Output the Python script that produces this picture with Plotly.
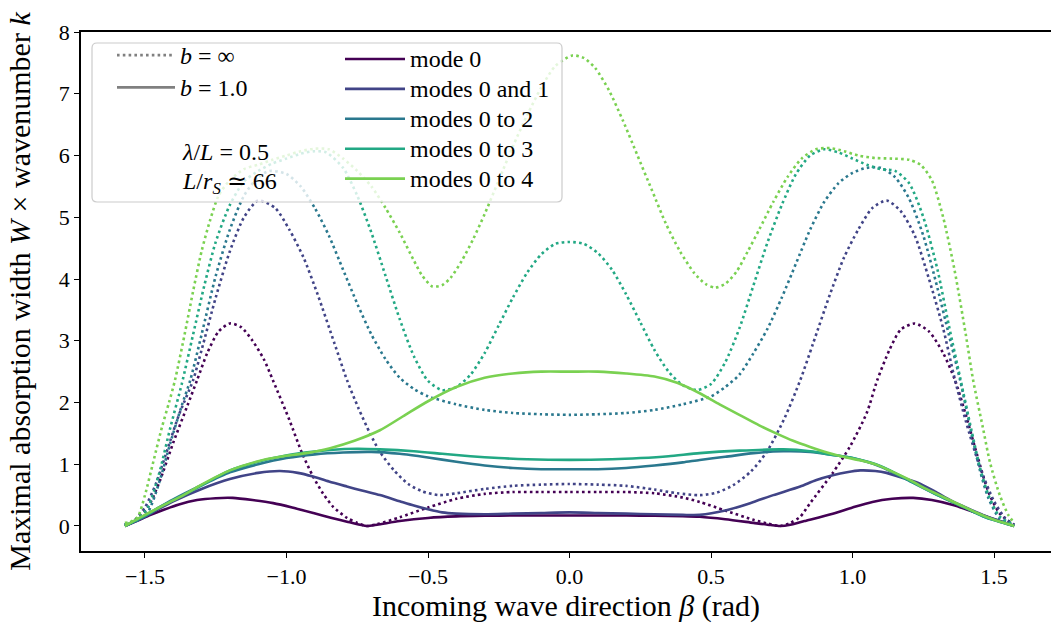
import plotly.graph_objects as go

# ---------------- data ----------------
COLORS = ["#440154", "#414487", "#2a788e", "#22a884", "#7ad151"]
MODE_NAMES = ["mode 0", "modes 0 and 1", "modes 0 to 2", "modes 0 to 3", "modes 0 to 4"]

X_TICKS = [-1.5, -1.0, -0.5, 0.0, 0.5, 1.0, 1.5]
X_TICK_TEXT = ["\u22121.5", "\u22121.0", "\u22120.5", "0.0", "0.5", "1.0", "1.5"]
Y_TICKS = [0, 1, 2, 3, 4, 5, 6, 7, 8]
Y_TICK_TEXT = ["0", "1", "2", "3", "4", "5", "6", "7", "8"]

# b = infinity (dotted)
beta_inf_m0 = [-1.571, -1.53, -1.49, -1.45, -1.40, -1.35, -1.316, -1.28, -1.24, -1.20,
               -1.16, -1.12, -1.08, -1.048, -0.99, -0.945, -0.906, -0.87, -0.835, -0.786,
               -0.75, -0.716, -0.68, -0.60, -0.50, -0.40, -0.30, -0.20, -0.10, 0.00,
               0.10, 0.20, 0.30, 0.40, 0.46, 0.55, 0.65, 0.70, 0.744, 0.78,
               0.815, 0.85, 0.93, 0.99, 1.05, 1.087, 1.13, 1.17, 1.22, 1.27,
               1.32, 1.362, 1.40, 1.44, 1.48, 1.52, 1.571]
w_inf_m0 = [0.02, 0.10, 0.30, 0.70, 1.35, 1.95, 2.36, 2.80, 3.15, 3.28,
            3.22, 3.00, 2.70, 2.36, 1.72, 1.18, 0.80, 0.52, 0.31, 0.13,
            0.05, 0.00, 0.03, 0.14, 0.30, 0.44, 0.52, 0.55, 0.55, 0.55,
            0.55, 0.55, 0.53, 0.46, 0.39, 0.25, 0.10, 0.04, 0.00, 0.05,
            0.15, 0.37, 0.86, 1.28, 1.83, 2.36, 2.85, 3.18, 3.28, 3.15,
            2.80, 2.36, 1.80, 1.15, 0.55, 0.20, 0.02]

beta_inf_m01 = [-1.571, -1.54, -1.50, -1.46, -1.42, -1.38, -1.33, -1.30, -1.25, -1.20,
                -1.15, -1.10, -1.04, -0.99, -0.94, -0.89, -0.83, -0.786, -0.745, -0.705,
                -0.67, -0.62, -0.57, -0.52, -0.46, -0.40, -0.30, -0.20, -0.10, 0.00,
                0.10, 0.20, 0.30, 0.38, 0.46, 0.52, 0.578, 0.64, 0.697, 0.76,
                0.815, 0.86, 0.92, 0.97, 1.02, 1.07, 1.12, 1.17, 1.22, 1.27,
                1.32, 1.36, 1.40, 1.45, 1.50, 1.54, 1.571]
w_inf_m01 = [0.02, 0.08, 0.30, 0.70, 1.25, 1.80, 2.36, 2.85, 3.70, 4.45,
             5.00, 5.27, 5.15, 4.80, 4.35, 3.75, 2.95, 2.36, 1.90, 1.50,
             1.20, 0.90, 0.68, 0.56, 0.50, 0.53, 0.60, 0.65, 0.67, 0.68,
             0.67, 0.65, 0.59, 0.53, 0.50, 0.54, 0.66, 0.88, 1.20, 1.75,
             2.36, 2.95, 3.75, 4.35, 4.80, 5.15, 5.27, 5.10, 4.70, 4.00,
             3.20, 2.40, 1.70, 0.95, 0.40, 0.12, 0.02]

beta_inf_m02 = [-1.571, -1.53, -1.49, -1.45, -1.41, -1.37, -1.34, -1.30, -1.25, -1.20,
                -1.15, -1.10, -1.06, -1.00, -0.95, -0.90, -0.85, -0.80, -0.75, -0.70,
                -0.65, -0.60, -0.55, -0.50, -0.40, -0.30, -0.20, -0.10, 0.00, 0.10,
                0.20, 0.30, 0.40, 0.50, 0.55, 0.60, 0.65, 0.70, 0.75, 0.80,
                0.85, 0.90, 0.95, 1.00, 1.05, 1.10, 1.15, 1.20, 1.25, 1.30,
                1.34, 1.38, 1.42, 1.45, 1.48, 1.52, 1.571]
w_inf_m02 = [0.02, 0.08, 0.22, 0.70, 1.35, 1.95, 2.36, 3.10, 4.05, 4.80,
             5.35, 5.65, 5.75, 5.70, 5.50, 5.15, 4.70, 4.15, 3.60, 3.10,
             2.70, 2.40, 2.22, 2.10, 1.97, 1.88, 1.83, 1.81, 1.80, 1.81,
             1.83, 1.88, 1.97, 2.10, 2.25, 2.45, 2.80, 3.20, 3.70, 4.25,
             4.80, 5.25, 5.55, 5.72, 5.80, 5.80, 5.65, 5.30, 4.70, 3.85,
             3.10, 2.36, 1.50, 0.90, 0.45, 0.12, 0.02]

beta_inf_m03 = [-1.571, -1.53, -1.49, -1.45, -1.41, -1.37, -1.33, -1.29, -1.25, -1.20,
                -1.15, -1.10, -1.05, -1.00, -0.95, -0.90, -0.86, -0.80, -0.75, -0.70,
                -0.65, -0.60, -0.55, -0.50, -0.45, -0.40, -0.35, -0.30, -0.25, -0.20,
                -0.15, -0.10, -0.05, 0.00, 0.05, 0.10, 0.15, 0.20, 0.25, 0.30,
                0.35, 0.40, 0.45, 0.50, 0.55, 0.60, 0.65, 0.70, 0.75, 0.80,
                0.85, 0.90, 0.95, 1.00, 1.05, 1.10, 1.15, 1.20, 1.25, 1.30,
                1.34, 1.38, 1.42, 1.45, 1.48, 1.52, 1.571]
w_inf_m03 = [0.02, 0.10, 0.30, 0.85, 1.60, 2.30, 3.10, 3.90, 4.60, 5.20,
             5.58, 5.75, 5.87, 5.95, 6.03, 6.07, 6.05, 5.80, 5.35, 4.75,
             4.05, 3.35, 2.75, 2.35, 2.20, 2.25, 2.45, 2.80, 3.25, 3.70,
             4.10, 4.40, 4.57, 4.60, 4.57, 4.42, 4.15, 3.75, 3.30, 2.85,
             2.50, 2.28, 2.20, 2.30, 2.65, 3.20, 3.90, 4.60, 5.20, 5.70,
             6.00, 6.10, 6.05, 5.95, 5.85, 5.78, 5.75, 5.55, 5.00, 4.15,
             3.25, 2.40, 1.55, 0.95, 0.50, 0.15, 0.02]

beta_inf_m04 = [-1.571, -1.55, -1.525, -1.50, -1.47, -1.44, -1.415, -1.394, -1.36, -1.33,
                -1.30, -1.27, -1.24, -1.20, -1.15, -1.10, -1.05, -1.00, -0.95, -0.90,
                -0.85, -0.80, -0.75, -0.70, -0.65, -0.60, -0.55, -0.52, -0.485, -0.45,
                -0.42, -0.38, -0.34, -0.30, -0.25, -0.20, -0.15, -0.10, -0.05, 0.01,
                0.05, 0.09, 0.14, 0.19, 0.24, 0.29, 0.34, 0.39, 0.44, 0.48,
                0.514, 0.55, 0.59, 0.63, 0.67, 0.72, 0.77, 0.82, 0.87, 0.92,
                0.97, 1.02, 1.08, 1.14, 1.20, 1.24, 1.28, 1.32, 1.36, 1.40,
                1.426, 1.46, 1.486, 1.52, 1.55, 1.571]
w_inf_m04 = [0.05, 0.07, 0.15, 0.50, 1.05, 1.60, 2.00, 2.36, 3.10, 3.80,
             4.45, 4.95, 5.35, 5.60, 5.78, 5.85, 5.93, 6.00, 6.07, 6.11,
             6.10, 5.95, 5.75, 5.50, 5.15, 4.75, 4.30, 4.05, 3.88, 3.90,
             4.02, 4.30, 4.65, 5.05, 5.60, 6.15, 6.65, 7.10, 7.45, 7.62,
             7.58, 7.42, 7.05, 6.55, 6.00, 5.45, 4.90, 4.45, 4.10, 3.92,
             3.86, 3.92, 4.12, 4.45, 4.80, 5.25, 5.65, 5.95, 6.10, 6.12,
             6.07, 6.00, 5.96, 5.95, 5.93, 5.85, 5.60, 5.00, 4.15, 3.10,
             2.36, 1.60, 1.02, 0.50, 0.18, 0.05]

# b = 1.0 (solid)
beta_b1_m0 = [-1.571, -1.53, -1.48, -1.436, -1.38, -1.316, -1.25, -1.19, -1.12, -1.047,
              -0.98, -0.905, -0.84, -0.786, -0.74, -0.716, -0.68, -0.60, -0.50, -0.40,
              -0.30, -0.20, -0.10, 0.00, 0.10, 0.20, 0.30, 0.40, 0.46, 0.55,
              0.65, 0.71, 0.744, 0.78, 0.83, 0.93, 1.00, 1.07, 1.14, 1.214,
              1.28, 1.355, 1.42, 1.475, 1.52, 1.571]
w_b1_m0 = [0.00, 0.08, 0.18, 0.26, 0.35, 0.42, 0.45, 0.455, 0.42, 0.37,
           0.30, 0.21, 0.13, 0.07, 0.02, 0.00, 0.02, 0.08, 0.13, 0.155,
           0.165, 0.17, 0.17, 0.17, 0.17, 0.17, 0.165, 0.16, 0.15, 0.11,
           0.05, 0.015, 0.00, 0.02, 0.08, 0.20, 0.30, 0.39, 0.44, 0.455,
           0.42, 0.34, 0.24, 0.15, 0.08, 0.00]

beta_b1_m01 = [-1.571, -1.50, -1.45, -1.40, -1.30, -1.20, -1.10, -1.023, -0.96, -0.906,
               -0.85, -0.787, -0.73, -0.67, -0.60, -0.55, -0.50, -0.45, -0.40, -0.30,
               -0.20, -0.10, 0.00, 0.10, 0.20, 0.30, 0.40, 0.46, 0.55, 0.638,
               0.72, 0.815, 0.87, 0.93, 0.98, 1.027, 1.08, 1.12, 1.17, 1.23,
               1.29, 1.345, 1.40, 1.46, 1.52, 1.571]
w_b1_m01 = [0.00, 0.15, 0.28, 0.40, 0.60, 0.76, 0.86, 0.89, 0.86, 0.80,
            0.72, 0.64, 0.57, 0.50, 0.40, 0.33, 0.27, 0.22, 0.20, 0.19,
            0.20, 0.21, 0.22, 0.21, 0.20, 0.19, 0.18, 0.18, 0.25, 0.37,
            0.50, 0.64, 0.74, 0.82, 0.87, 0.90, 0.89, 0.86, 0.79, 0.70,
            0.56, 0.42, 0.30, 0.18, 0.08, 0.00]

beta_b1_m02 = [-1.571, -1.50, -1.45, -1.40, -1.30, -1.20, -1.10, -1.00, -0.90, -0.80,
               -0.70, -0.60, -0.50, -0.40, -0.30, -0.20, -0.10, 0.00, 0.10, 0.20,
               0.30, 0.40, 0.46, 0.55, 0.65, 0.755, 0.85, 0.93, 1.00, 1.10,
               1.20, 1.30, 1.40, 1.47, 1.571]
w_b1_m02 = [0.00, 0.16, 0.30, 0.43, 0.66, 0.87, 1.00, 1.10, 1.16, 1.19,
            1.20, 1.17, 1.11, 1.04, 0.98, 0.94, 0.92, 0.92, 0.92, 0.94,
            0.98, 1.03, 1.07, 1.12, 1.18, 1.21, 1.20, 1.15, 1.10, 0.96,
            0.73, 0.50, 0.29, 0.14, 0.00]

beta_b1_m03 = [-1.571, -1.50, -1.45, -1.376, -1.30, -1.20, -1.10, -1.023, -0.95, -0.846,
               -0.75, -0.67, -0.55, -0.45, -0.35, -0.25, -0.15, 0.00, 0.15, 0.25,
               0.35, 0.46, 0.60, 0.755, 0.85, 0.93, 1.00, 1.10, 1.20, 1.30,
               1.40, 1.47, 1.571]
w_b1_m03 = [0.00, 0.17, 0.30, 0.47, 0.66, 0.90, 1.04, 1.12, 1.18, 1.23,
            1.25, 1.24, 1.21, 1.17, 1.13, 1.10, 1.08, 1.07, 1.08, 1.10,
            1.13, 1.18, 1.22, 1.24, 1.21, 1.15, 1.10, 0.97, 0.74, 0.50,
            0.29, 0.14, 0.00]

beta_b1_m04 = [-1.571, -1.50, -1.45, -1.376, -1.30, -1.20, -1.10, -1.023, -0.93, -0.846,
               -0.76, -0.67, -0.58, -0.50, -0.40, -0.30, -0.20, -0.10, 0.00, 0.10,
               0.20, 0.30, 0.38, 0.46, 0.53, 0.60, 0.67, 0.73, 0.79, 0.85,
               0.91, 0.967, 1.03, 1.086, 1.14, 1.20, 1.26, 1.32, 1.38, 1.44,
               1.50, 1.571]
w_b1_m04 = [0.00, 0.18, 0.30, 0.47, 0.67, 0.90, 1.05, 1.12, 1.18, 1.26,
            1.38, 1.55, 1.80, 2.02, 2.25, 2.40, 2.47, 2.50, 2.50, 2.50,
            2.47, 2.42, 2.32, 2.15, 1.97, 1.80, 1.63, 1.50, 1.38, 1.28,
            1.19, 1.12, 1.06, 0.99, 0.88, 0.75, 0.60, 0.47, 0.34, 0.21,
            0.10, 0.00]

inf_beta = [beta_inf_m0, beta_inf_m01, beta_inf_m02, beta_inf_m03, beta_inf_m04]
inf_w = [w_inf_m0, w_inf_m01, w_inf_m02, w_inf_m03, w_inf_m04]
b1_beta = [beta_b1_m0, beta_b1_m01, beta_b1_m02, beta_b1_m03, beta_b1_m04]
b1_w = [w_b1_m0, w_b1_m01, w_b1_m02, w_b1_m03, w_b1_m04]
for xs, ys in list(zip(inf_beta, inf_w)) + list(zip(b1_beta, b1_w)):
    assert len(xs) == len(ys)

# ---------------- styling ----------------
FONT = "Liberation Serif"
DOT = "2.6px,3.2px"
PX_L, PX_R, PX_T, PX_B = 81, 1051, 32, 551
LEG_TEXT = '<span style="font-size:24px">{}</span>'


def pap_x(px):
    return (px - PX_L) / (PX_R - PX_L)


def pap_y(py):
    return (PX_B - py) / (PX_B - PX_T)


fig = go.Figure()
for i in range(5):
    fig.add_trace(go.Scatter(
        x=inf_beta[i], y=inf_w[i], mode="lines",
        line=dict(color=COLORS[i], width=2.6, dash=DOT, shape="spline", smoothing=0.7),
        showlegend=False, hoverinfo="skip"))
    fig.add_trace(go.Scatter(
        x=b1_beta[i], y=b1_w[i], mode="lines", name=LEG_TEXT.format(MODE_NAMES[i]),
        line=dict(color=COLORS[i], width=2.6, shape="spline", smoothing=0.7),
        legend="legend2"))

fig.add_trace(go.Scatter(x=[None], y=[None], mode="lines",
                         name=LEG_TEXT.format("<i>b</i> = \u221e"),
                         line=dict(color="#808080", width=2.6, dash=DOT), legend="legend"))
fig.add_trace(go.Scatter(x=[None], y=[None], mode="lines",
                         name=LEG_TEXT.format("<i>b</i> = 1.0"),
                         line=dict(color="#808080", width=2.6), legend="legend"))

# legend frame (rounded rectangle)
x0, x1, y0, y1 = pap_x(92), pap_x(562), pap_y(202), pap_y(43)
rx, ry = 5 / (PX_R - PX_L), 5 / (PX_B - PX_T)
frame = (f"M{x0+rx},{y0} L{x1-rx},{y0} Q{x1},{y0} {x1},{y0+ry} "
         f"L{x1},{y1-ry} Q{x1},{y1} {x1-rx},{y1} L{x0+rx},{y1} "
         f"Q{x0},{y1} {x0},{y1-ry} L{x0},{y0+ry} Q{x0},{y0} {x0+rx},{y0} Z")
fig.add_shape(type="path", path=frame, xref="paper", yref="paper", layer="above",
              line=dict(color="#cccccc", width=1.2), fillcolor="rgba(255,255,255,0.8)")

fig.add_annotation(x=pap_x(180), y=pap_y(152), xref="paper", yref="paper",
                   text="<i>\u03bb</i>/<i>L</i> = 0.5", showarrow=False,
                   xanchor="left", yanchor="middle", font=dict(family=FONT, size=24, color="black"))
fig.add_annotation(x=pap_x(180), y=pap_y(183), xref="paper", yref="paper",
                   text="<i>L</i>/<i>r</i><sub><i>S</i></sub> \u2243 66", showarrow=False,
                   xanchor="left", yanchor="middle", font=dict(family=FONT, size=24, color="black"))

fig.update_layout(
    width=1051, height=626,
    margin=dict(l=PX_L, r=1051 - PX_R, t=PX_T, b=626 - PX_B, autoexpand=False),
    paper_bgcolor="white", plot_bgcolor="white",
    font=dict(family=FONT, size=22, color="black"),
    legend=dict(x=pap_x(112), y=pap_y(34), xanchor="left", yanchor="top",
                bgcolor="rgba(0,0,0,0)", borderwidth=0, itemwidth=58,
                font=dict(family=FONT, size=22.5, color="black")),
    legend2=dict(x=pap_x(340), y=pap_y(39), xanchor="left", yanchor="top",
                 bgcolor="rgba(0,0,0,0)", borderwidth=0, itemwidth=60,
                 font=dict(family=FONT, size=20.7, color="black")),
    xaxis=dict(range=[-1.726, 1.701], tickvals=X_TICKS, ticktext=X_TICK_TEXT,
               ticks="outside", ticklen=5, tickwidth=1.4, tickcolor="black",
               showline=True, linecolor="black", linewidth=1.6, mirror=True,
               showgrid=False, zeroline=False,
               tickfont=dict(family=FONT, size=22, color="black"),
               title=dict(text="Incoming wave direction <i>\u03b2</i> (rad)",
                          font=dict(family=FONT, size=30, color="black"), standoff=7)),
    yaxis=dict(range=[-0.405, 8.0], tickvals=Y_TICKS, ticktext=Y_TICK_TEXT,
               ticks="outside", ticklen=5, tickwidth=1.4, tickcolor="black",
               showline=True, linecolor="black", linewidth=1.6, mirror=False,
               showgrid=False, zeroline=False,
               tickfont=dict(family=FONT, size=22, color="black"),
               title=dict(text="Maximal absorption width <i>W</i> \u00d7 wavenumber <i>k</i>",
                          font=dict(family=FONT, size=30, color="black"), standoff=19)),
)

fig.write_html("out.html")
